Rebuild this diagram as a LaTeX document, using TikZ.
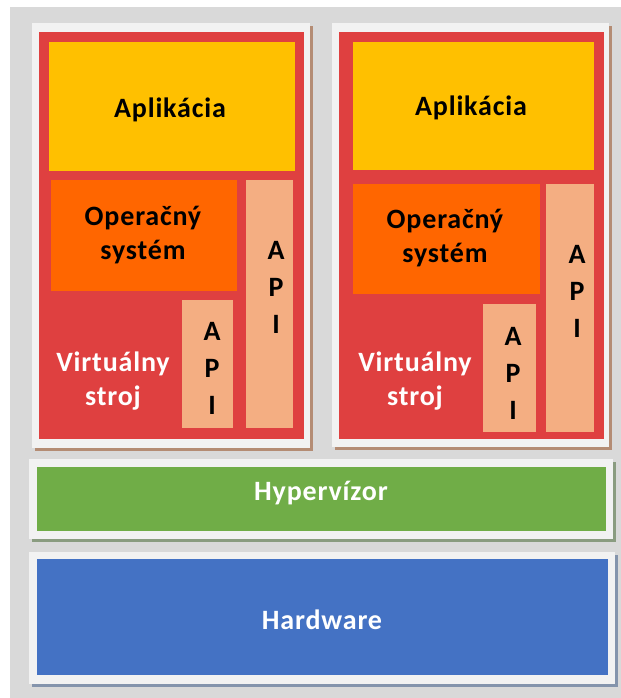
\documentclass[tikz,border=0pt]{standalone}
\usepackage{fontspec}
\setmainfont{Carlito}[LetterSpace=3]
\definecolor{vmBack}{HTML}{D9D9D9}
\definecolor{vmFrame}{HTML}{F2F2F2}
\definecolor{vmRed}{HTML}{DF4040}
\definecolor{vmApp}{HTML}{FFC000}
\definecolor{vmOs}{HTML}{FF6600}
\definecolor{vmApi}{HTML}{F4AE82}
\definecolor{vmGreen}{HTML}{70AD47}
\definecolor{vmBlue}{HTML}{4472C4}
\definecolor{shBrown}{HTML}{B48C74}
\definecolor{shGreen}{HTML}{8A9C80}
\definecolor{shBlue}{HTML}{8494AC}

\begin{document}
\begin{tikzpicture}[x=0.5pt,y=-0.5pt,
		lbl/.style={font=\fontsize{14}{17}\selectfont\bfseries,align=center,inner sep=0pt},
		apilbl/.style={font=\fontsize{14}{18.5}\selectfont\bfseries,align=center,inner sep=0pt}]
		\useasboundingbox (0,0) rectangle (621,698);
		\fill[white] (0,0) rectangle (621,698);
		\fill[vmBack] (10,7) rectangle (621,698);
		% virtual machine panels
		\fill[shBrown] (35,26) rectangle (313,451);
		\fill[vmFrame] (32,23) rectangle (310,448);
		\fill[vmRed] (39,32) rectangle (304,439);
		\fill[shBrown] (335,26) rectangle (612,450);
		\fill[vmFrame] (332,23) rectangle (609,447);
		\fill[vmRed] (339,32) rectangle (604,439);
		% left machine
		\fill[vmApp] (49,42) rectangle (295,171);
		\fill[vmOs]  (51,180) rectangle (237,291);
		\fill[vmApi] (246,180) rectangle (293,428);
		\fill[vmApi] (182,300) rectangle (233,428);
		\node[lbl] (appL) at (170,110) {Aplikácia};
		\node[lbl] (osL) at (143,235) {Operačný\\systém};
		\node[lbl,white] (vmL) at (113,381) {Virtuálny\\stroj};
		\node[apilbl] (apiOsL) at (276,287) {A\\P\\I};
		\node[apilbl] (apiVmL) at (212,368) {A\\P\\I};
		% right machine
		\fill[vmApp] (353,42) rectangle (594,170);
		\fill[vmOs]  (353,184) rectangle (540,294);
		\fill[vmApi] (546,184) rectangle (594,432);
		\fill[vmApi] (483,304) rectangle (536,432);
		\node[lbl] (appR) at (471,108) {Aplikácia};
		\node[lbl] (osR) at (445,238) {Operačný\\systém};
		\node[lbl,white] (vmR) at (415,381) {Virtuálny\\stroj};
		\node[apilbl] (apiOsR) at (577,291) {A\\P\\I};
		\node[apilbl] (apiVmR) at (513,373) {A\\P\\I};
		% hypervisor and hardware
		\fill[shGreen] (32,462) rectangle (616,542);
		\fill[vmFrame] (29,459) rectangle (613,539);
		\fill[vmGreen] (37,467) rectangle (606,531);
		\node[lbl,white] (hyp) at (321,493) {Hypervízor};
		\fill[shBlue] (32,555) rectangle (618,687);
		\fill[vmFrame] (29,552) rectangle (615,684);
		\fill[vmBlue] (37,559) rectangle (608,675);
		\node[lbl,white] (hw) at (322,620) {Hardware};
	\end{tikzpicture}
\end{document}
